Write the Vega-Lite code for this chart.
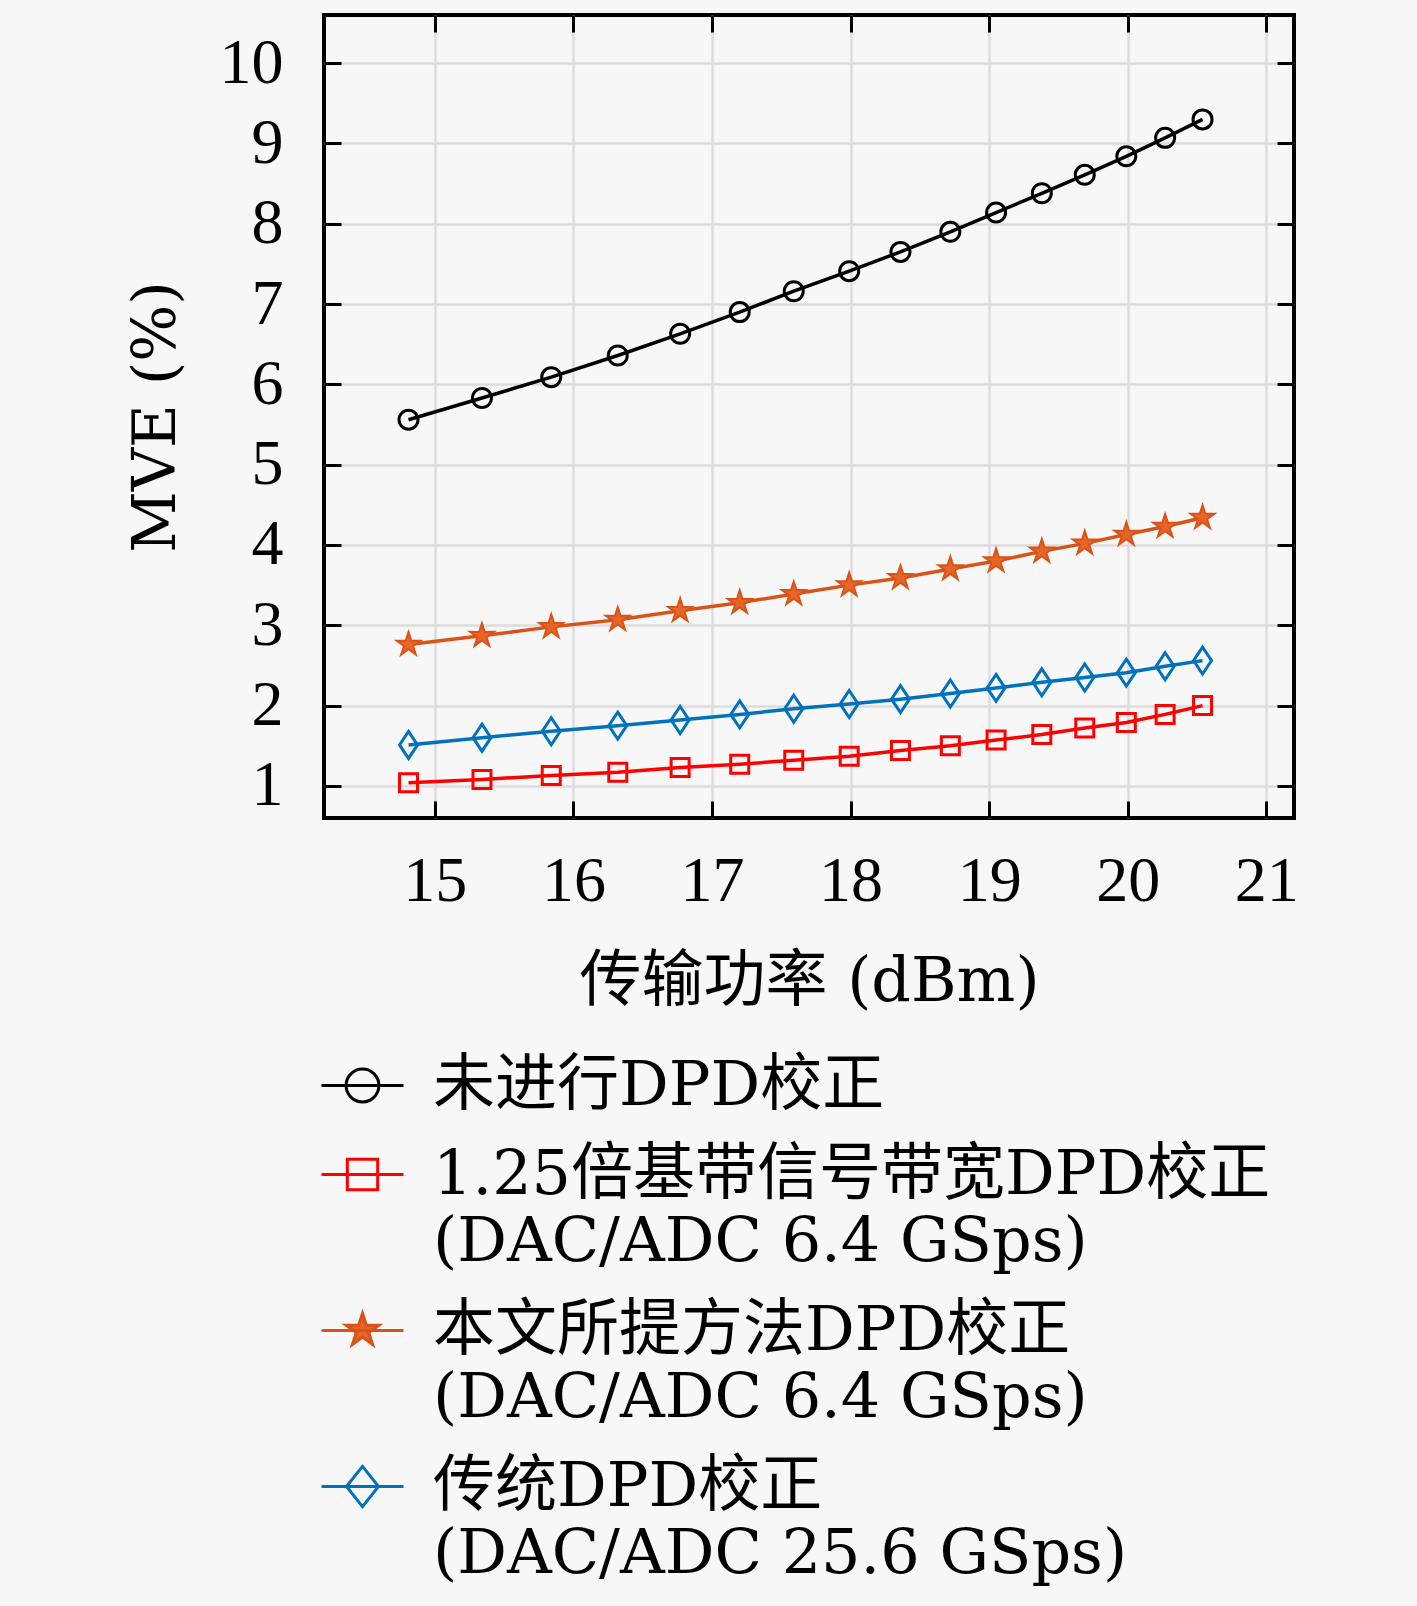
{
  "$schema": "https://vega.github.io/schema/vega-lite/v6.json",
  "autosize": {"type": "none"},
  "width": 970,
  "height": 803,
  "padding": {"left": 324, "top": 15, "right": 123, "bottom": 788},
  "background": "#f7f7f7",
  "config": {
    "font": "DejaVu Serif, Noto Sans CJK SC",
    "view": {"stroke": "#000000", "strokeWidth": 4, "fill": "#f7f7f7"}
  },
  "data": {
    "values": [
      {"power": 14.81, "mve": 5.56, "series": "未进行DPD校正"},
      {"power": 15.34, "mve": 5.83, "series": "未进行DPD校正"},
      {"power": 15.84, "mve": 6.09, "series": "未进行DPD校正"},
      {"power": 16.32, "mve": 6.36, "series": "未进行DPD校正"},
      {"power": 16.77, "mve": 6.63, "series": "未进行DPD校正"},
      {"power": 17.20, "mve": 6.90, "series": "未进行DPD校正"},
      {"power": 17.59, "mve": 7.16, "series": "未进行DPD校正"},
      {"power": 17.99, "mve": 7.41, "series": "未进行DPD校正"},
      {"power": 18.36, "mve": 7.65, "series": "未进行DPD校正"},
      {"power": 18.72, "mve": 7.90, "series": "未进行DPD校正"},
      {"power": 19.05, "mve": 8.14, "series": "未进行DPD校正"},
      {"power": 19.38, "mve": 8.38, "series": "未进行DPD校正"},
      {"power": 19.69, "mve": 8.61, "series": "未进行DPD校正"},
      {"power": 19.99, "mve": 8.84, "series": "未进行DPD校正"},
      {"power": 20.27, "mve": 9.07, "series": "未进行DPD校正"},
      {"power": 20.54, "mve": 9.30, "series": "未进行DPD校正"},
      {"power": 14.81, "mve": 1.04, "series": "1.25倍基带信号带宽DPD校正\n(DAC/ADC 6.4 GSps)"},
      {"power": 15.34, "mve": 1.08, "series": "1.25倍基带信号带宽DPD校正\n(DAC/ADC 6.4 GSps)"},
      {"power": 15.84, "mve": 1.13, "series": "1.25倍基带信号带宽DPD校正\n(DAC/ADC 6.4 GSps)"},
      {"power": 16.32, "mve": 1.17, "series": "1.25倍基带信号带宽DPD校正\n(DAC/ADC 6.4 GSps)"},
      {"power": 16.77, "mve": 1.23, "series": "1.25倍基带信号带宽DPD校正\n(DAC/ADC 6.4 GSps)"},
      {"power": 17.20, "mve": 1.27, "series": "1.25倍基带信号带宽DPD校正\n(DAC/ADC 6.4 GSps)"},
      {"power": 17.59, "mve": 1.32, "series": "1.25倍基带信号带宽DPD校正\n(DAC/ADC 6.4 GSps)"},
      {"power": 17.99, "mve": 1.37, "series": "1.25倍基带信号带宽DPD校正\n(DAC/ADC 6.4 GSps)"},
      {"power": 18.36, "mve": 1.44, "series": "1.25倍基带信号带宽DPD校正\n(DAC/ADC 6.4 GSps)"},
      {"power": 18.72, "mve": 1.50, "series": "1.25倍基带信号带宽DPD校正\n(DAC/ADC 6.4 GSps)"},
      {"power": 19.05, "mve": 1.57, "series": "1.25倍基带信号带宽DPD校正\n(DAC/ADC 6.4 GSps)"},
      {"power": 19.38, "mve": 1.64, "series": "1.25倍基带信号带宽DPD校正\n(DAC/ADC 6.4 GSps)"},
      {"power": 19.69, "mve": 1.72, "series": "1.25倍基带信号带宽DPD校正\n(DAC/ADC 6.4 GSps)"},
      {"power": 19.99, "mve": 1.79, "series": "1.25倍基带信号带宽DPD校正\n(DAC/ADC 6.4 GSps)"},
      {"power": 20.27, "mve": 1.89, "series": "1.25倍基带信号带宽DPD校正\n(DAC/ADC 6.4 GSps)"},
      {"power": 20.54, "mve": 2.00, "series": "1.25倍基带信号带宽DPD校正\n(DAC/ADC 6.4 GSps)"},
      {"power": 14.81, "mve": 2.76, "series": "本文所提方法DPD校正\n(DAC/ADC 6.4 GSps)"},
      {"power": 15.34, "mve": 2.87, "series": "本文所提方法DPD校正\n(DAC/ADC 6.4 GSps)"},
      {"power": 15.84, "mve": 2.98, "series": "本文所提方法DPD校正\n(DAC/ADC 6.4 GSps)"},
      {"power": 16.32, "mve": 3.07, "series": "本文所提方法DPD校正\n(DAC/ADC 6.4 GSps)"},
      {"power": 16.77, "mve": 3.18, "series": "本文所提方法DPD校正\n(DAC/ADC 6.4 GSps)"},
      {"power": 17.20, "mve": 3.28, "series": "本文所提方法DPD校正\n(DAC/ADC 6.4 GSps)"},
      {"power": 17.59, "mve": 3.39, "series": "本文所提方法DPD校正\n(DAC/ADC 6.4 GSps)"},
      {"power": 17.99, "mve": 3.50, "series": "本文所提方法DPD校正\n(DAC/ADC 6.4 GSps)"},
      {"power": 18.36, "mve": 3.59, "series": "本文所提方法DPD校正\n(DAC/ADC 6.4 GSps)"},
      {"power": 18.72, "mve": 3.70, "series": "本文所提方法DPD校正\n(DAC/ADC 6.4 GSps)"},
      {"power": 19.05, "mve": 3.80, "series": "本文所提方法DPD校正\n(DAC/ADC 6.4 GSps)"},
      {"power": 19.38, "mve": 3.92, "series": "本文所提方法DPD校正\n(DAC/ADC 6.4 GSps)"},
      {"power": 19.69, "mve": 4.02, "series": "本文所提方法DPD校正\n(DAC/ADC 6.4 GSps)"},
      {"power": 19.99, "mve": 4.13, "series": "本文所提方法DPD校正\n(DAC/ADC 6.4 GSps)"},
      {"power": 20.27, "mve": 4.23, "series": "本文所提方法DPD校正\n(DAC/ADC 6.4 GSps)"},
      {"power": 20.54, "mve": 4.34, "series": "本文所提方法DPD校正\n(DAC/ADC 6.4 GSps)"},
      {"power": 14.81, "mve": 1.51, "series": "传统DPD校正\n(DAC/ADC 25.6 GSps)"},
      {"power": 15.34, "mve": 1.60, "series": "传统DPD校正\n(DAC/ADC 25.6 GSps)"},
      {"power": 15.84, "mve": 1.68, "series": "传统DPD校正\n(DAC/ADC 25.6 GSps)"},
      {"power": 16.32, "mve": 1.75, "series": "传统DPD校正\n(DAC/ADC 25.6 GSps)"},
      {"power": 16.77, "mve": 1.82, "series": "传统DPD校正\n(DAC/ADC 25.6 GSps)"},
      {"power": 17.20, "mve": 1.89, "series": "传统DPD校正\n(DAC/ADC 25.6 GSps)"},
      {"power": 17.59, "mve": 1.96, "series": "传统DPD校正\n(DAC/ADC 25.6 GSps)"},
      {"power": 17.99, "mve": 2.02, "series": "传统DPD校正\n(DAC/ADC 25.6 GSps)"},
      {"power": 18.36, "mve": 2.08, "series": "传统DPD校正\n(DAC/ADC 25.6 GSps)"},
      {"power": 18.72, "mve": 2.15, "series": "传统DPD校正\n(DAC/ADC 25.6 GSps)"},
      {"power": 19.05, "mve": 2.22, "series": "传统DPD校正\n(DAC/ADC 25.6 GSps)"},
      {"power": 19.38, "mve": 2.29, "series": "传统DPD校正\n(DAC/ADC 25.6 GSps)"},
      {"power": 19.69, "mve": 2.35, "series": "传统DPD校正\n(DAC/ADC 25.6 GSps)"},
      {"power": 19.99, "mve": 2.41, "series": "传统DPD校正\n(DAC/ADC 25.6 GSps)"},
      {"power": 20.27, "mve": 2.49, "series": "传统DPD校正\n(DAC/ADC 25.6 GSps)"},
      {"power": 20.54, "mve": 2.56, "series": "传统DPD校正\n(DAC/ADC 25.6 GSps)"}
    ]
  },
  "resolve": {"axis": {"x": "independent", "y": "independent"}},
  "layer": [
    {
      "mark": {"type": "line", "strokeWidth": 3.5},
      "encoding": {
        "x": {
          "field": "power", "type": "quantitative",
          "scale": {"domain": [14.2, 21.2], "nice": false, "zero": false},
          "axis": {
            "orient": "bottom", "values": [15, 16, 17, 18, 19, 20, 21],
            "title": "传输功率 (dBm)", "titleFontSize": 62, "titleFontWeight": "normal", "titleColor": "#000",
            "titlePadding": 38,
            "labelFont": "Liberation Serif", "labelFontSize": 64, "labelColor": "#000", "labelPadding": 48,
            "domain": false, "tickSize": -17, "tickWidth": 3, "tickColor": "#000",
            "grid": true, "gridColor": "#dcdcdc", "gridWidth": 2.5
          }
        },
        "y": {
          "field": "mve", "type": "quantitative",
          "scale": {"domain": [0.6, 10.6], "nice": false, "zero": false},
          "axis": {
            "orient": "left", "values": [1, 2, 3, 4, 5, 6, 7, 8, 9, 10],
            "title": "MVE (%)", "titleFontSize": 60, "titleFontWeight": "normal", "titleColor": "#000",
            "titlePadding": 32,
            "labelFont": "Liberation Serif", "labelFontSize": 64, "labelColor": "#000", "labelPadding": 58,
            "domain": false, "tickSize": -17, "tickWidth": 3, "tickColor": "#000",
            "grid": true, "gridColor": "#dcdcdc", "gridWidth": 2.5
          }
        },
        "color": {
          "field": "series", "type": "nominal",
          "scale": {
            "domain": [
              "未进行DPD校正",
              "1.25倍基带信号带宽DPD校正\n(DAC/ADC 6.4 GSps)",
              "本文所提方法DPD校正\n(DAC/ADC 6.4 GSps)",
              "传统DPD校正\n(DAC/ADC 25.6 GSps)"
            ],
            "range": ["#000000", "#ff0000", "#d95319", "#0072bd"]
          },
          "legend": {
            "orient": "none", "legendX": -4, "legendY": 1028,
            "direction": "vertical", "columns": 1, "title": null,
            "labelFontSize": 62, "labelColor": "#000", "labelLimit": 2000,
            "labelExpr": "split(datum.label, '\\n')",
            "labelOffset": 28, "rowPadding": 15,
            "symbolSize": 6724, "symbolStrokeWidth": 3,
            "encode": {
              "labels": {
                "update": {
                  "lineHeight": {"value": 67}
                }
              },
              "symbols": {
                "update": {
                  "shape": {"signal": "['M-1,0H1M0.4,0A0.4,0.4 0 1,1 -0.4,0A0.4,0.4 0 1,1 0.4,0Z', 'M-1,0H1M-0.37,-0.37H0.37V0.37H-0.37Z', 'M-1,0H1M0,-0.42L0.094,-0.129L0.4,-0.13L0.152,0.049L0.247,0.34L0,0.16L-0.247,0.34L-0.152,0.049L-0.4,-0.13L-0.094,-0.129Z', 'M-1,0H1M0,-0.49L0.39,0L0,0.49L-0.39,0Z'][datum.index]"},
                  "size": {"value": 6724},
                  "stroke": {"signal": "['#000000', '#ff0000', '#d95319', '#0072bd'][datum.index]"},
                  "fill": {"signal": "['transparent', 'transparent', '#e8652a', 'transparent'][datum.index]"},
                  "strokeWidth": {"value": 3},
                  "opacity": {"value": 1},
                  "fillOpacity": {"value": 1},
                  "strokeOpacity": {"value": 1}
                }
              }
            }
          }
        }
      }
    },
    {
      "transform": [{"filter": {"field": "series", "equal": "未进行DPD校正"}}],
      "mark": {"type": "point", "shape": "M1.9,0A1.9,1.9 0 1,1 -1.9,0A1.9,1.9 0 1,1 1.9,0Z", "size": 100, "strokeWidth": 3, "filled": false, "color": "#000000", "opacity": 1},
      "encoding": {
        "x": {"field": "power", "type": "quantitative", "axis": null},
        "y": {"field": "mve", "type": "quantitative", "axis": null}
      }
    },
    {
      "transform": [{"filter": {"field": "series", "equal": "1.25倍基带信号带宽DPD校正\n(DAC/ADC 6.4 GSps)"}}],
      "mark": {"type": "point", "shape": "M-1.8,-1.8H1.8V1.8H-1.8Z", "size": 100, "strokeWidth": 3, "filled": false, "color": "#ff0000", "opacity": 1},
      "encoding": {
        "x": {"field": "power", "type": "quantitative", "axis": null},
        "y": {"field": "mve", "type": "quantitative", "axis": null}
      }
    },
    {
      "transform": [{"filter": {"field": "series", "equal": "本文所提方法DPD校正\n(DAC/ADC 6.4 GSps)"}}],
      "mark": {"type": "point", "shape": "M0,-2.5L0.558,-0.768L2.378,-0.773L0.903,0.293L1.47,2.023L0,0.95L-1.47,2.023L-0.903,0.293L-2.378,-0.773L-0.558,-0.768Z", "size": 100, "strokeWidth": 2, "fill": "#e8652a", "stroke": "#d95319", "opacity": 1},
      "encoding": {
        "x": {"field": "power", "type": "quantitative", "axis": null},
        "y": {"field": "mve", "type": "quantitative", "axis": null}
      }
    },
    {
      "transform": [{"filter": {"field": "series", "equal": "传统DPD校正\n(DAC/ADC 25.6 GSps)"}}],
      "mark": {"type": "point", "shape": "M0,-2.7L1.8,0L0,2.7L-1.8,0Z", "size": 100, "strokeWidth": 3, "filled": false, "color": "#0072bd", "opacity": 1},
      "encoding": {
        "x": {"field": "power", "type": "quantitative", "axis": null},
        "y": {"field": "mve", "type": "quantitative", "axis": null}
      }
    },
    {
      "mark": {"type": "point", "opacity": 0},
      "encoding": {
        "x": {
          "field": "power", "type": "quantitative",
          "axis": {
            "orient": "top", "values": [15, 16, 17, 18, 19, 20, 21], "title": null,
            "labels": false, "domain": false, "grid": false,
            "tickSize": -17, "tickWidth": 3, "tickColor": "#000"
          }
        },
        "y": {
          "field": "mve", "type": "quantitative",
          "axis": {
            "orient": "right", "values": [1, 2, 3, 4, 5, 6, 7, 8, 9, 10], "title": null,
            "labels": false, "domain": false, "grid": false,
            "tickSize": -17, "tickWidth": 3, "tickColor": "#000"
          }
        }
      }
    }
  ]
}
